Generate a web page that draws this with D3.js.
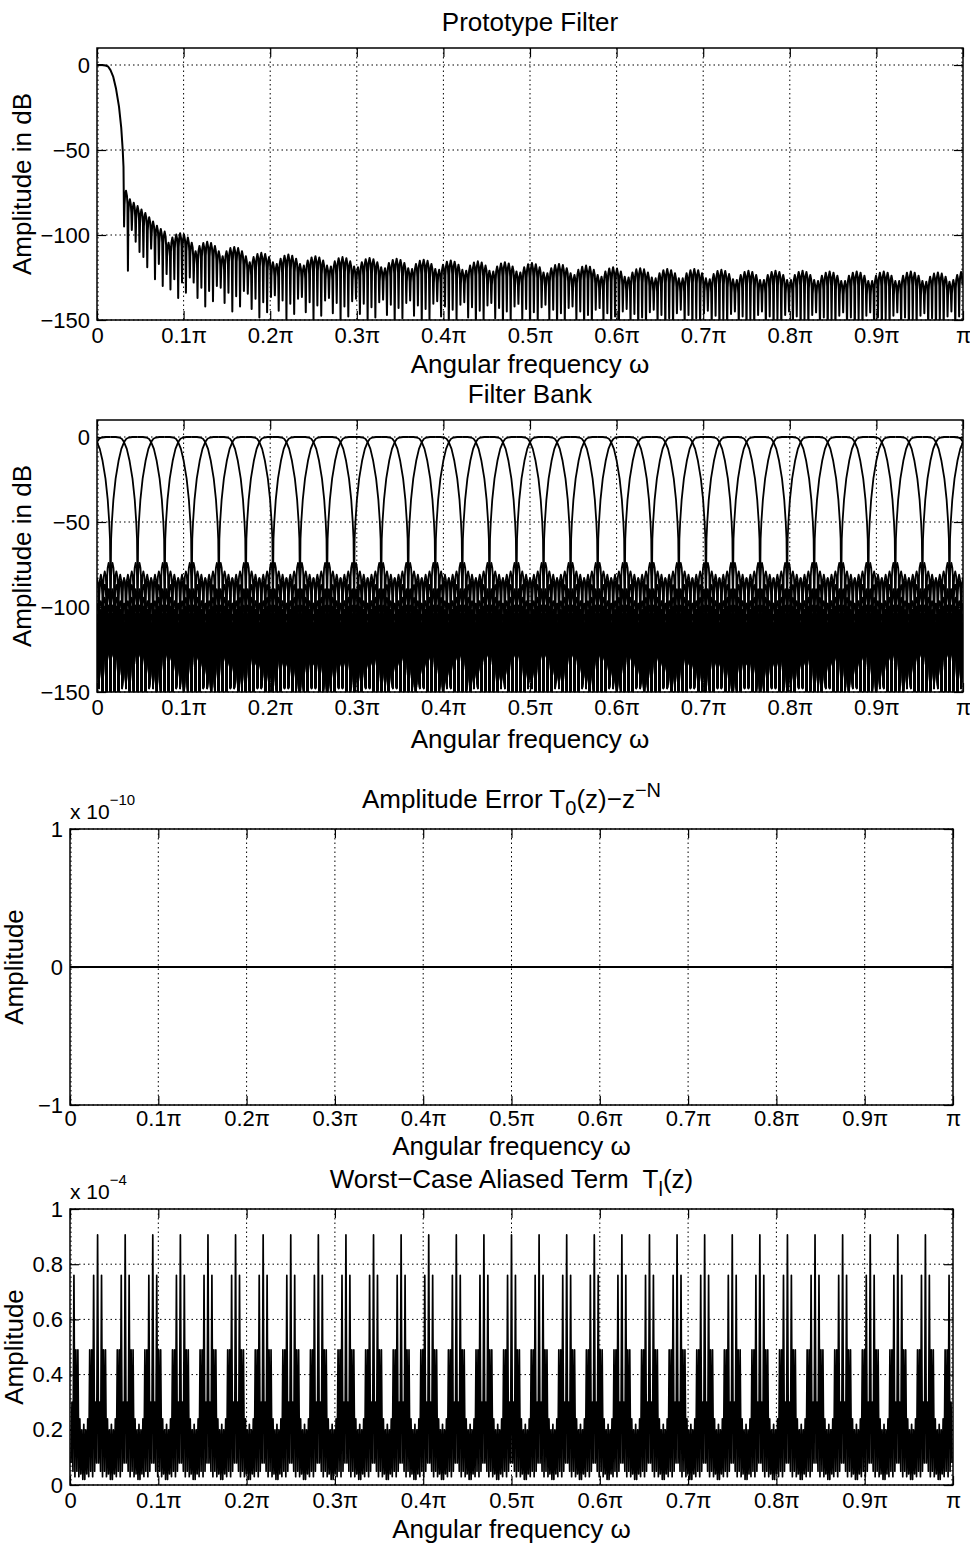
<!DOCTYPE html>
<html lang="en">
<head>
<meta charset="UTF-8">
<title>Prototype filter and filter bank</title>
<script src="https://cdn.jsdelivr.net/npm/d3@7"></script>
<style>
    body {
        margin: 0;
        background: #fff;
    }
    svg {
        display: block;
        font-family: "Liberation Sans", Arial, sans-serif;
    }
    text {
        white-space: pre;
    }
</style>
</head>
<body>
<svg id="chart" width="970" height="1551"></svg>
<script>
// ---------- values ----------
// frequency axis in units of pi
const xTickVals = [0, 0.1, 0.2, 0.3, 0.4, 0.5, 0.6, 0.7, 0.8, 0.9, 1];
const xTickLabels = ["0", "0.1π", "0.2π", "0.3π", "0.4π", "0.5π", "0.6π", "0.7π", "0.8π", "0.9π", "π"];

const dbTicks = [-150, -100, -50, 0];
const dbTickLabels = ["−150", "−100", "−50", "0"];
const errTicks = [-1, 0, 1];
const errTickLabels = ["−1", "0", "1"];
const aliasTicks = [0, 0.2, 0.4, 0.6, 0.8, 1];
const aliasTickLabels = ["0", "0.2", "0.4", "0.6", "0.8", "1"];

// prototype main lobe (w/pi, dB)
const protoMainW = [0, 0.006, 0.010, 0.013, 0.0156, 0.0188, 0.022, 0.0254, 0.028, 0.0297, 0.0306];
const protoMainDb = [0, 0, -0.3, -1, -3, -7, -14, -24.5, -37, -50, -60];

// stopband: 224 sidelobes over [0, pi], 7 of them per pi/32 hump
const lobeCount = 224;
const firstLobe = 7;
// first sidelobes (lobes 7..17), peak and null before each, dB
const earlyPeakDb = [-74, -79, -81, -83, -85, -87, -89.5, -92, -94.5, -96.5, -98];
const earlyNullDb = [-95, -121, -97, -104, -110, -113, -119, -108, -126, -117, -130];
// top of hump k (k = 3..32, hump k sits at k*pi/32), dB
const humpTopDb = [-99, -104, -107, -110.5, -111.5, -112.5, -113, -113.5, -114, -114.5,
                   -115, -115.5, -116, -116.5, -117, -118, -119, -119.5, -120, -120,
                   -120.5, -121, -121, -121, -121.5, -121.5, -121.5, -121.5, -122, -121];
// lobe peaks and nulls inside one hump, relative to the hump top
const humpArch = [-5.5, -2.5, -0.7, 0, -0.7, -2.5, -5.5];
const humpNullDrop = [-24, -33, -27, -38, -29, -35, -26];
// shape of one sidelobe (fraction of lobe width, dB below its peak)
const lobeShapeFrac = [0.125, 0.25, 0.5, 0.75, 0.875];
const lobeShapeDb = [-8, -3, 0, -3, -8];

// filter bank channel centres (w/pi)
const channelCenters = [0.0156, 0.0469, 0.0781, 0.1094, 0.1406, 0.1719, 0.2031, 0.2344,
                        0.2656, 0.2969, 0.3281, 0.3594, 0.3906, 0.4219, 0.4531, 0.4844,
                        0.5156, 0.5469, 0.5781, 0.6094, 0.6406, 0.6719, 0.7031, 0.7344,
                        0.7656, 0.7969, 0.8281, 0.8594, 0.8906, 0.9219, 0.9531, 0.9844];

// amplitude error T0(z) - z^-N (x 1e-10)
const errW = [0, 0.25, 0.5, 0.75, 1];
const errVal = [0, 0, 0, 0, 0];

// worst-case aliased term (x 1e-4): one pi/32 period, 28 samples, tall ripple at index 14
const aliasPattern = [0.22, 0.02, 0.20, 0.04, 0.24, 0.03, 0.49, 0.05, 0.49, 0.03, 0.76, 0.05,
                      0.30, 0.08, 0.906, 0.08, 0.30, 0.05, 0.76, 0.03, 0.49, 0.05, 0.49, 0.03,
                      0.24, 0.04, 0.20, 0.02];
const aliasPeriods = 32;
const aliasCentre = 14;

// ---------- build the series ----------
function buildPrototype() {
    const pts = protoMainW.map((w, i) => [w, protoMainDb[i]]);
    for (let j = firstLobe; j < lobeCount; j++) {
        let peak, nul;
        if (j < firstLobe + earlyPeakDb.length) {
            peak = earlyPeakDb[j - firstLobe];
            nul = earlyNullDb[j - firstLobe];
        } else {
            const k = Math.round(j / 7);
            const i = j - 7 * k + 3;
            peak = humpTopDb[k - 3] + humpArch[i];
            nul = humpTopDb[k - 3] + humpNullDrop[i];
        }
        pts.push([j / lobeCount, nul]);
        lobeShapeFrac.forEach((f, m) => pts.push([(j + f) / lobeCount, peak + lobeShapeDb[m]]));
    }
    return pts;
}

const proto = buildPrototype();

function fold(w) {
    if (w < 0) return -w;
    if (w > 1) return 2 - w;
    return w;
}

const bank = [];
channelCenters.forEach(c => {
    bank.push(proto.map(([w, d]) => [fold(c + w), d]));
    bank.push(proto.map(([w, d]) => [fold(c - w), d]));
});

const errSeries = [errW.map((w, i) => [w, errVal[i]])];

const aliasSeries = [[]];
const n = aliasPattern.length;
for (let k = 0; k <= aliasPeriods; k++) {
    aliasPattern.forEach((v, i) => {
        // the tall ripple is not there at w = 0 and w = pi
        if ((k === 0 || k === aliasPeriods) && i === aliasCentre) return;
        const w = (k + (i - aliasCentre) / n) / aliasPeriods;
        if (w >= 0 && w <= 1) aliasSeries[0].push([w, v]);
    });
}

// ---------- drawing ----------
const svg = d3.select("#chart");
const tickFont = 22;
const labelFont = 26;

function drawPanel(p) {
    const x = d3.scaleLinear().domain([0, 1]).range([p.left, p.right]);
    const y = d3.scaleLinear().domain(p.yDomain).range([p.bottom, p.top]);
    const g = svg.append("g");

    g.append("clipPath").attr("id", "clip" + p.id)
        .append("rect")
        .attr("x", p.left).attr("y", p.top)
        .attr("width", p.right - p.left).attr("height", p.bottom - p.top);

    // dotted grid
    g.append("g").selectAll("line").data(xTickVals).join("line")
        .attr("x1", d => x(d) + (d === 0 ? 1 : d === 1 ? -1 : 0))
        .attr("x2", d => x(d) + (d === 0 ? 1 : d === 1 ? -1 : 0))
        .attr("y1", p.top).attr("y2", p.bottom)
        .attr("stroke", "#000").attr("stroke-width", 1)
        .attr("stroke-dasharray", "1.5,3");
    g.append("g").selectAll("line").data(p.yTicks).join("line")
        .attr("x1", p.left).attr("x2", p.right)
        .attr("y1", d => y(d)).attr("y2", d => y(d))
        .attr("stroke", "#000").attr("stroke-width", 1)
        .attr("stroke-dasharray", "1.5,3");

    // data
    const line = d3.line().x(d => x(d[0])).y(d => y(d[1]));
    g.append("g").attr("clip-path", "url(#clip" + p.id + ")")
        .selectAll("path").data(p.series).join("path")
        .attr("d", line)
        .attr("fill", "none")
        .attr("stroke", "#000")
        .attr("stroke-width", p.lineWidth)
        .attr("stroke-linejoin", "round");

    // axes with inward ticks
    const bottom = g.append("g").attr("transform", `translate(0,${p.bottom})`)
        .call(d3.axisBottom(x).tickValues(xTickVals)
            .tickFormat((d, i) => xTickLabels[i])
            .tickSizeInner(-9).tickSizeOuter(0).tickPadding(p.tickPad));
    const left = g.append("g").attr("transform", `translate(${p.left},0)`)
        .call(d3.axisLeft(y).tickValues(p.yTicks)
            .tickFormat((d, i) => p.yTickLabels[i])
            .tickSizeInner(-9).tickSizeOuter(0).tickPadding(7));
    const top = g.append("g").attr("transform", `translate(0,${p.top})`)
        .call(d3.axisTop(x).tickValues(xTickVals).tickFormat("")
            .tickSizeInner(-9).tickSizeOuter(0));
    const right = g.append("g").attr("transform", `translate(${p.right},0)`)
        .call(d3.axisRight(y).tickValues(p.yTicks).tickFormat("")
            .tickSizeInner(-9).tickSizeOuter(0));
    [bottom, left, top, right].forEach(a => {
        a.select(".domain").remove();
        a.selectAll("line").attr("stroke", "#000").attr("stroke-width", 1.2);
        a.selectAll("text").attr("fill", "#000")
            .attr("font-family", "Liberation Sans, Arial, sans-serif")
            .attr("font-size", tickFont);
    });

    g.append("rect")
        .attr("x", p.left).attr("y", p.top)
        .attr("width", p.right - p.left).attr("height", p.bottom - p.top)
        .attr("fill", "none").attr("stroke", "#000").attr("stroke-width", 1.5);

    // labels
    g.append("text")
        .attr("x", (p.left + p.right) / 2).attr("y", p.xlabelY)
        .attr("text-anchor", "middle").attr("font-size", labelFont)
        .text("Angular frequency ω");
    g.append("text")
        .attr("transform", `translate(${p.ylabelX},${(p.top + p.bottom) / 2}) rotate(-90)`)
        .attr("text-anchor", "middle").attr("font-size", labelFont)
        .text(p.ylabel);

    const t = g.append("text")
        .attr("x", (p.left + p.right) / 2).attr("y", p.titleY)
        .attr("text-anchor", "middle").attr("font-size", labelFont);
    p.title.forEach(part => {
        t.append("tspan")
            .attr("dy", part.dy || 0)
            .attr("font-size", part.size || labelFont)
            .text(part.s);
    });

    if (p.exponent) {
        const e = g.append("text")
            .attr("x", p.left).attr("y", p.top - 10)
            .attr("font-size", 21);
        e.append("tspan").text("x 10");
        e.append("tspan").attr("dy", -14).attr("font-size", 15).text(p.exponent);
    }
}

drawPanel({
    id: 1, left: 97, right: 963, top: 48, bottom: 320,
    yDomain: [-150, 10], yTicks: dbTicks, yTickLabels: dbTickLabels,
    series: [proto], lineWidth: 2, tickPad: 7,
    title: [{ s: "Prototype Filter" }], titleY: 31,
    xlabelY: 373, ylabel: "Amplitude in dB", ylabelX: 31
});

drawPanel({
    id: 2, left: 97, right: 963, top: 420, bottom: 692,
    yDomain: [-150, 10], yTicks: dbTicks, yTickLabels: dbTickLabels,
    series: bank, lineWidth: 1.8, tickPad: 7,
    title: [{ s: "Filter Bank" }], titleY: 403,
    xlabelY: 748, ylabel: "Amplitude in dB", ylabelX: 31
});

drawPanel({
    id: 3, left: 70, right: 953, top: 829, bottom: 1105,
    yDomain: [-1, 1], yTicks: errTicks, yTickLabels: errTickLabels,
    series: errSeries, lineWidth: 2, tickPad: 5,
    title: [{ s: "Amplitude Error T" }, { s: "0", dy: 7, size: 20 },
            { s: "(z)−z", dy: -7 }, { s: "−N", dy: -11, size: 20 }],
    titleY: 808, exponent: "−10",
    xlabelY: 1155, ylabel: "Amplitude", ylabelX: 23
});

drawPanel({
    id: 4, left: 70, right: 953, top: 1209, bottom: 1485,
    yDomain: [0, 1], yTicks: aliasTicks, yTickLabels: aliasTickLabels,
    series: aliasSeries, lineWidth: 1.7, tickPad: 7,
    title: [{ s: "Worst−Case Aliased Term  T" }, { s: "l", dy: 8, size: 20 },
            { s: "(z)", dy: -8 }],
    titleY: 1188, exponent: "−4",
    xlabelY: 1538, ylabel: "Amplitude", ylabelX: 23
});
</script>
</body>
</html>
